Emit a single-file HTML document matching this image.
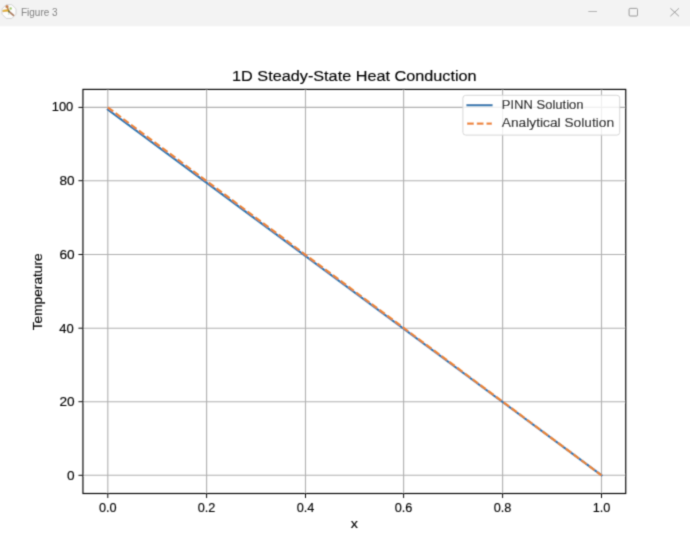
<!DOCTYPE html>
<html>
<head>
<meta charset="utf-8">
<style>
html,body{margin:0;padding:0;width:690px;height:540px;overflow:hidden;background:#fff;}
svg{display:block;font-family:"Liberation Sans",sans-serif;}
.t{stroke:#000;stroke-width:0.15px;}
</style>
</head>
<body>
<svg width="690" height="540" viewBox="0 0 690 540">
<defs><filter id="bl" x="0" y="0" width="690" height="540" filterUnits="userSpaceOnUse" primitiveUnits="userSpaceOnUse"><feConvolveMatrix order="3" kernelMatrix="0.02768 0.11101 0.02768 0.11101 0.44521 0.11101 0.02768 0.11101 0.02768" edgeMode="duplicate" preserveAlpha="false"/></filter></defs>
<rect x="0" y="0" width="690" height="540" fill="#fff"/>
<g filter="url(#bl)">
<rect x="0" y="0" width="690" height="26.3" fill="#f3f3f3"/>
<g>
  <path d="M6.2 4.7 H11.8 L16 8.9 V14.2 L11.8 18.4 H6.2 L2 14.2 V8.9 Z" fill="#fdfdfd" stroke="#c8c8c8" stroke-width="0.8"/>
  <path d="M9.2 11.8 L13.4 15.3" stroke="#b08060" stroke-width="2" stroke-linecap="round"/>
  <path d="M3.6 10.9 Q6 10.2 8.2 10.6" stroke="#e0b030" stroke-width="2.5" stroke-linecap="round" fill="none"/>
  <circle cx="7" cy="6.7" r="1.6" fill="#c47a3c"/>
  <path d="M7.6 8 L9 11" stroke="#b87838" stroke-width="1.4" stroke-linecap="round"/>
  <circle cx="10.7" cy="8.5" r="1.2" fill="#a0c860"/>
  <circle cx="8.9" cy="11.4" r="1.0" fill="#607830"/>
  <circle cx="8.7" cy="14.1" r="0.8" fill="#c8e0c8"/>
</g>
<text x="21" y="16" font-size="10" fill="#767676" textLength="36.6" lengthAdjust="spacingAndGlyphs">Figure 3</text>
<path d="M588.3 11.5 H597" stroke="#9c9c9c" stroke-width="0.8"/>
<rect x="629.1" y="8.4" width="8.4" height="7.6" rx="1" fill="none" stroke="#8a8a8a" stroke-width="0.9"/>
<path d="M670.4 8.3 L678.9 16.2 M678.9 8.3 L670.4 16.2" stroke="#8a8a8a" stroke-width="0.9"/>
<path d="M107.80 89.4 V493.5 M206.60 89.4 V493.5 M305.50 89.4 V493.5 M403.60 89.4 V493.5 M502.60 89.4 V493.5 M601.50 89.4 V493.5 M82.95 475.30 H625.75 M82.95 401.70 H625.75 M82.95 328.20 H625.75 M82.95 254.50 H625.75 M82.95 180.70 H625.75 M82.95 107.40 H625.75" stroke="#b0b0b0" stroke-width="1.1" fill="none"/>
<path d="M107.80 109.61 L601.50 475.30" stroke="#2676b0" stroke-width="2.1" fill="none" stroke-linecap="square"/>
<path d="M107.80 107.40 L601.50 475.30" stroke="#ee8432" stroke-width="2.1" fill="none" stroke-dasharray="6.76 2.92"/>
<rect x="82.95" y="89.4" width="542.80" height="404.10" fill="none" stroke="#000" stroke-width="1.15"/>
<path d="M78.45 475.30 H82.95 M78.45 401.70 H82.95 M78.45 328.20 H82.95 M78.45 254.50 H82.95 M78.45 180.70 H82.95 M78.45 107.40 H82.95 M107.80 493.5 V498.00 M206.60 493.5 V498.00 M305.50 493.5 V498.00 M403.60 493.5 V498.00 M502.60 493.5 V498.00 M601.50 493.5 V498.00" stroke="#000" stroke-width="0.97" fill="none"/>
<g font-size="12.8" fill="#000" class="t" text-anchor="end">
  <text x="74.6" y="479.70" textLength="7.6" lengthAdjust="spacingAndGlyphs">0</text>
  <text x="74.6" y="406.10" textLength="15.2" lengthAdjust="spacingAndGlyphs">20</text>
  <text x="73.8" y="332.60" textLength="14.5" lengthAdjust="spacingAndGlyphs">40</text>
  <text x="74.6" y="258.90" textLength="15.2" lengthAdjust="spacingAndGlyphs">60</text>
  <text x="74.6" y="185.00" textLength="15.1" lengthAdjust="spacingAndGlyphs">80</text>
  <text x="73.3" y="111.30" textLength="21.6" lengthAdjust="spacingAndGlyphs">100</text>
</g>
<g font-size="12.8" fill="#000" class="t" text-anchor="middle">
  <text x="107.80" y="511.7" textLength="17.7" lengthAdjust="spacingAndGlyphs">0.0</text>
  <text x="206.60" y="511.7" textLength="17.7" lengthAdjust="spacingAndGlyphs">0.2</text>
  <text x="305.50" y="511.7" textLength="17.7" lengthAdjust="spacingAndGlyphs">0.4</text>
  <text x="403.60" y="511.7" textLength="17.7" lengthAdjust="spacingAndGlyphs">0.6</text>
  <text x="502.60" y="511.7" textLength="17.7" lengthAdjust="spacingAndGlyphs">0.8</text>
  <text x="601.50" y="511.7" textLength="17.7" lengthAdjust="spacingAndGlyphs">1.0</text>
</g>
<text x="354.35" y="527.7" font-size="12.8" fill="#000" class="t" text-anchor="middle" textLength="7.16" lengthAdjust="spacingAndGlyphs">x</text>
<text transform="translate(42.4 291.8) rotate(-90)" font-size="12.8" fill="#000" class="t" text-anchor="middle" textLength="77.0" lengthAdjust="spacingAndGlyphs">Temperature</text>
<text x="232.1" y="81.2" font-size="15.4" fill="#000" class="t" textLength="244.5" lengthAdjust="spacingAndGlyphs">1D Steady-State Heat Conduction</text>
<rect x="462.9" y="95.3" width="156.8" height="39.8" rx="2.8" fill="#fff" fill-opacity="0.8" stroke="#d6d6d6" stroke-width="1.0"/>
<path d="M466.4 105.2 H492.6" stroke="#2676b0" stroke-width="2.2"/>
<path d="M467.1 123.6 H491.9" stroke="#ee8432" stroke-width="2.2" stroke-dasharray="6.7 3.0"/>
<g font-size="12.8" fill="#000" class="t">
  <text x="501.8" y="109.3" textLength="81.8" lengthAdjust="spacingAndGlyphs">PINN Solution</text>
  <text x="501.8" y="126.7" textLength="112.3" lengthAdjust="spacingAndGlyphs">Analytical Solution</text>
</g>
</g>
</svg>
</body>
</html>
